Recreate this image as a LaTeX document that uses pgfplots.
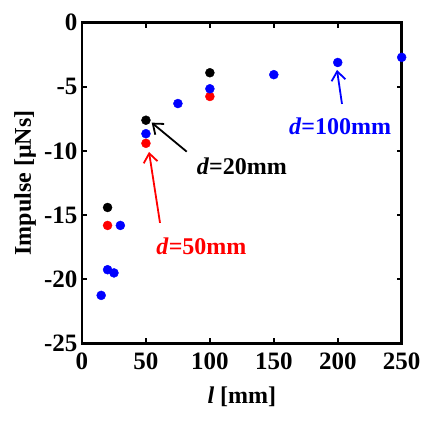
\documentclass[border=0pt]{standalone}
\usepackage{fontspec}
\setmainfont{Liberation Serif}
\usepackage{pgfplots}
\pgfplotsset{compat=1.18}
\usetikzlibrary{arrows.meta}

\pgfplotstableread{
l imp
20 -14.4
50 -7.6
100 -3.9
}\dtwenty
\pgfplotstableread{
l imp
20 -15.8
50 -9.4
100 -5.75
}\dfifty
\pgfplotstableread{
l imp
15 -21.25
20 -19.25
25 -19.5
30 -15.8
50 -8.65
75 -6.3
100 -5.15
150 -4.05
200 -3.1
250 -2.7
}\dhundred

\begin{document}
\begin{tikzpicture}[font=\fontsize{24}{28}\selectfont\bfseries]
\begin{axis}[
  scale only axis,
  width=319.7pt, height=320.8pt,
  xmin=0, xmax=250, ymin=-25, ymax=0,
  xtick={0,50,...,250},
  ytick={-25,-20,...,0},
  tick align=inside,
  major tick length=5pt,
  axis line style={line width=2.5pt},
  every tick/.style={line width=1.8pt, black},
  /pgf/number format/assume math mode=true,
  ticklabel style={font=\fontsize{25}{28}\selectfont\bfseries},
  xticklabel style={yshift=-6pt},
  yticklabel style={xshift=-1pt},
  xlabel={\textit{l} [mm]},
  ylabel={Impulse [μNs]},
  xlabel style={at={(axis description cs:0.5,-0.167)},anchor=center},
  ylabel style={at={(axis description cs:-0.178,0.5)},anchor=center},
  clip=false,
]
\addplot[only marks, mark=*, mark size=4.5pt, color=black] table[x=l,y=imp] {\dtwenty};
\addplot[only marks, mark=*, mark size=4.5pt, color=red] table[x=l,y=imp] {\dfifty};
\addplot[only marks, mark=*, mark size=4.5pt, color=blue] table[x=l,y=imp] {\dhundred};

\draw[black, line width=1.8pt, -{Straight Barb[length=9pt,width=14pt]}]
  (axis cs:81.9,-10.05) -- (axis cs:54.5,-7.79);
\draw[red, line width=1.8pt, -{Straight Barb[length=9pt,width=14pt]}]
  (axis cs:61,-15.6) -- (axis cs:52.4,-10.07);
\draw[blue, line width=1.8pt, -{Straight Barb[length=9pt,width=14pt]}]
  (axis cs:203.3,-6.33) -- (axis cs:199.4,-3.68);

\node[black] at (axis cs:125,-11.2) {\textit{d}=20mm};
\node[red] at (axis cs:93.4,-17.4) {\textit{d}=50mm};
\node[blue] at (axis cs:201.8,-8.1) {\textit{d}=100mm};
\end{axis}
\pgfresetboundingbox
\path[use as bounding box] (-82pt,-81.5pt) rectangle (355pt,343.5pt);
\end{tikzpicture}
\end{document}
